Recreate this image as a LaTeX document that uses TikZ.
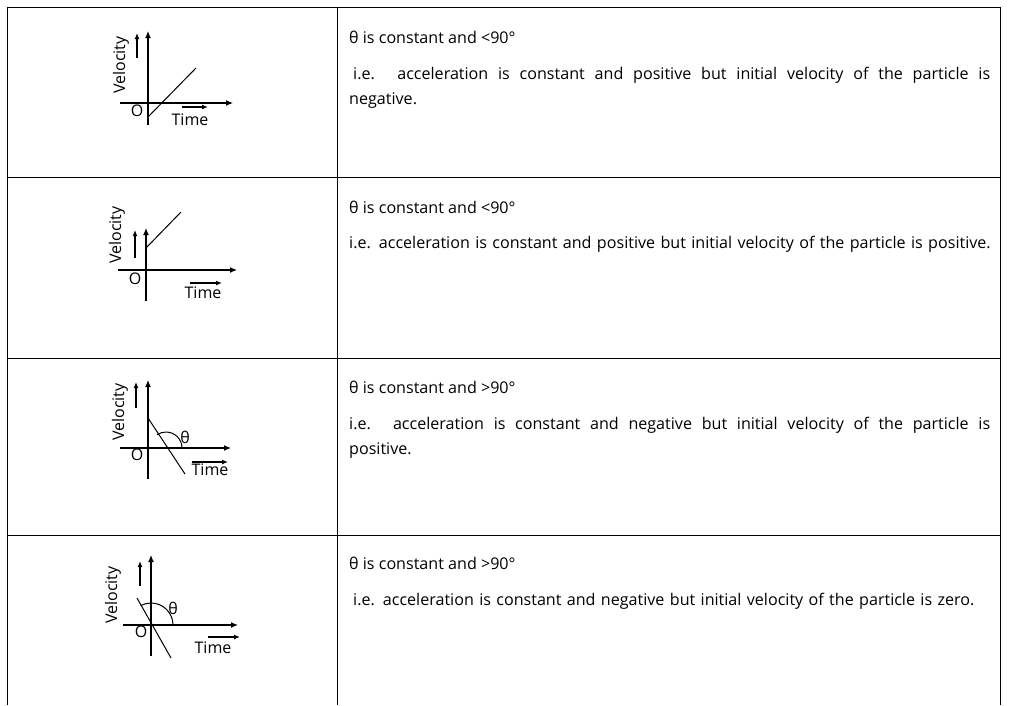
\documentclass[tikz,border=0pt]{standalone}
\usepackage{fontspec}
\setmainfont{Open Sans}
\begin{document}
\begin{tikzpicture}[x=1pt,y=-1pt,
  ax/.style={line width=1.2pt,-{Latex[length=7pt,width=6pt]}},
  sm/.style={line width=1.2pt,-{Latex[length=6pt,width=5pt]}},
  gl/.style={line width=1pt},
  lab/.style={font=\fontsize{16}{16}\selectfont,inner sep=0pt},
  txt/.style={anchor=west,inner sep=0pt,font=\fontsize{16.1}{25}\selectfont},
  par/.style={anchor=north west,inner sep=0pt,text width=641pt,align=justify,font=\fontsize{16.1}{25}\selectfont}]
\usetikzlibrary{arrows.meta}
\useasboundingbox (0,0) rectangle (1009,705);
\draw[line width=0.8pt] (7,705) -- (7,7) -- (1000,7) -- (1000,705);
\draw[line width=0.8pt] (337,7) -- (337,705);
\foreach \y in {177,358,535} \draw[line width=0.8pt] (7,\y) -- (1000,\y);
% graph 1
\coordinate (a1) at (148,125); \coordinate (b1) at (148,31);
\coordinate (c1) at (120,103); \coordinate (d1) at (233,103);
\draw[ax] (a1) -- (b1); \draw[ax] (c1) -- (d1);
\coordinate (s1) at (137,58); \coordinate (t1) at (137,33); \draw[sm] (s1) -- (t1);
\coordinate (l1) at (148,117); \coordinate (m1) at (196,68); \draw[gl] (l1) -- (m1);
\node[lab,rotate=90] (v1) at (121,65) {Velocity};
\node[lab] (o1) at (137,111) {O};
\node[lab] (T1) at (190,120) {Time};
\coordinate (p1) at (182,107); \coordinate (q1) at (208,107); \draw[sm] (p1) -- (q1);
% graph 2
\coordinate (a2) at (146,301); \coordinate (b2) at (146,228);
\coordinate (c2) at (118,270); \coordinate (d2) at (237,270);
\draw[ax] (a2) -- (b2); \draw[ax] (c2) -- (d2);
\coordinate (s2) at (135,258); \coordinate (t2) at (135,230); \draw[sm] (s2) -- (t2);
\coordinate (l2) at (146,248); \coordinate (m2) at (181,212); \draw[gl] (l2) -- (m2);
\node[lab,rotate=90] (v2) at (117,235) {Velocity};
\node[lab] (o2) at (135,279) {O};
\node[lab] (T2) at (203,293) {Time};
\coordinate (p2) at (190,283); \coordinate (q2) at (222,283); \draw[sm] (p2) -- (q2);
% graph 3
\coordinate (a3) at (148,479); \coordinate (b3) at (148,380);
\coordinate (c3) at (120,448); \coordinate (d3) at (231,448);
\draw[ax] (a3) -- (b3); \draw[ax] (c3) -- (d3);
\coordinate (s3) at (136,408); \coordinate (t3) at (136,382); \draw[sm] (s3) -- (t3);
\coordinate (l3) at (148,418); \coordinate (m3) at (185,474); \draw[gl] (l3) -- (m3);
\draw[gl] (182,448) arc[start angle=0,end angle=-124,radius=16];
\node[lab] (th3) at (185,437) {θ};
\node[lab,rotate=90] (v3) at (120,412) {Velocity};
\node[lab] (o3) at (137,455) {O};
\node[lab] (T3) at (210,470) {Time};
\coordinate (p3) at (192,462); \coordinate (q3) at (228,462); \draw[sm] (p3) -- (q3);
% graph 4
\coordinate (a4) at (151,656); \coordinate (b4) at (151,555);
\coordinate (c4) at (123,625); \coordinate (d4) at (238,625);
\draw[ax] (a4) -- (b4); \draw[ax] (c4) -- (d4);
\coordinate (s4) at (140,586); \coordinate (t4) at (140,561); \draw[sm] (s4) -- (t4);
\coordinate (l4) at (137,598); \coordinate (m4) at (171,658); \draw[gl] (l4) -- (m4);
\draw[gl] (173,625) arc[start angle=0,end angle=-118,radius=22];
\node[lab] (th4) at (173,608) {θ};
\node[lab,rotate=90] (v4) at (113,595) {Velocity};
\node[lab] (o4) at (141,632) {O};
\node[lab] (T4) at (213,648) {Time};
\coordinate (p4) at (208,637); \coordinate (q4) at (240,637); \draw[sm] (p4) -- (q4);
% texts
\node[txt] (h1) at (349,37) {θ is constant and <90°};
\node[par] (r1) at (349,67) {\hspace{4pt}i.e. acceleration is constant and positive but initial velocity of the particle is\linebreak negative.};
\node[txt] (h2) at (349,207) {θ is constant and <90°};
\node[par,text width=660pt,align=left] (r2) at (349,236) {i.e. acceleration is constant and positive but initial velocity of the particle is positive.};
\node[txt] (h3) at (349,387) {θ is constant and >90°};
\node[par] (r3) at (349,417) {i.e. acceleration is constant and negative but initial velocity of the particle is\linebreak positive.};
\node[txt] (h4) at (349,563) {θ is constant and >90°};
\node[par,text width=660pt,align=left] (r4) at (349,593) {\hspace{4pt}i.e. acceleration is constant and negative but initial velocity of the particle is zero.};
\end{tikzpicture}
\end{document}
